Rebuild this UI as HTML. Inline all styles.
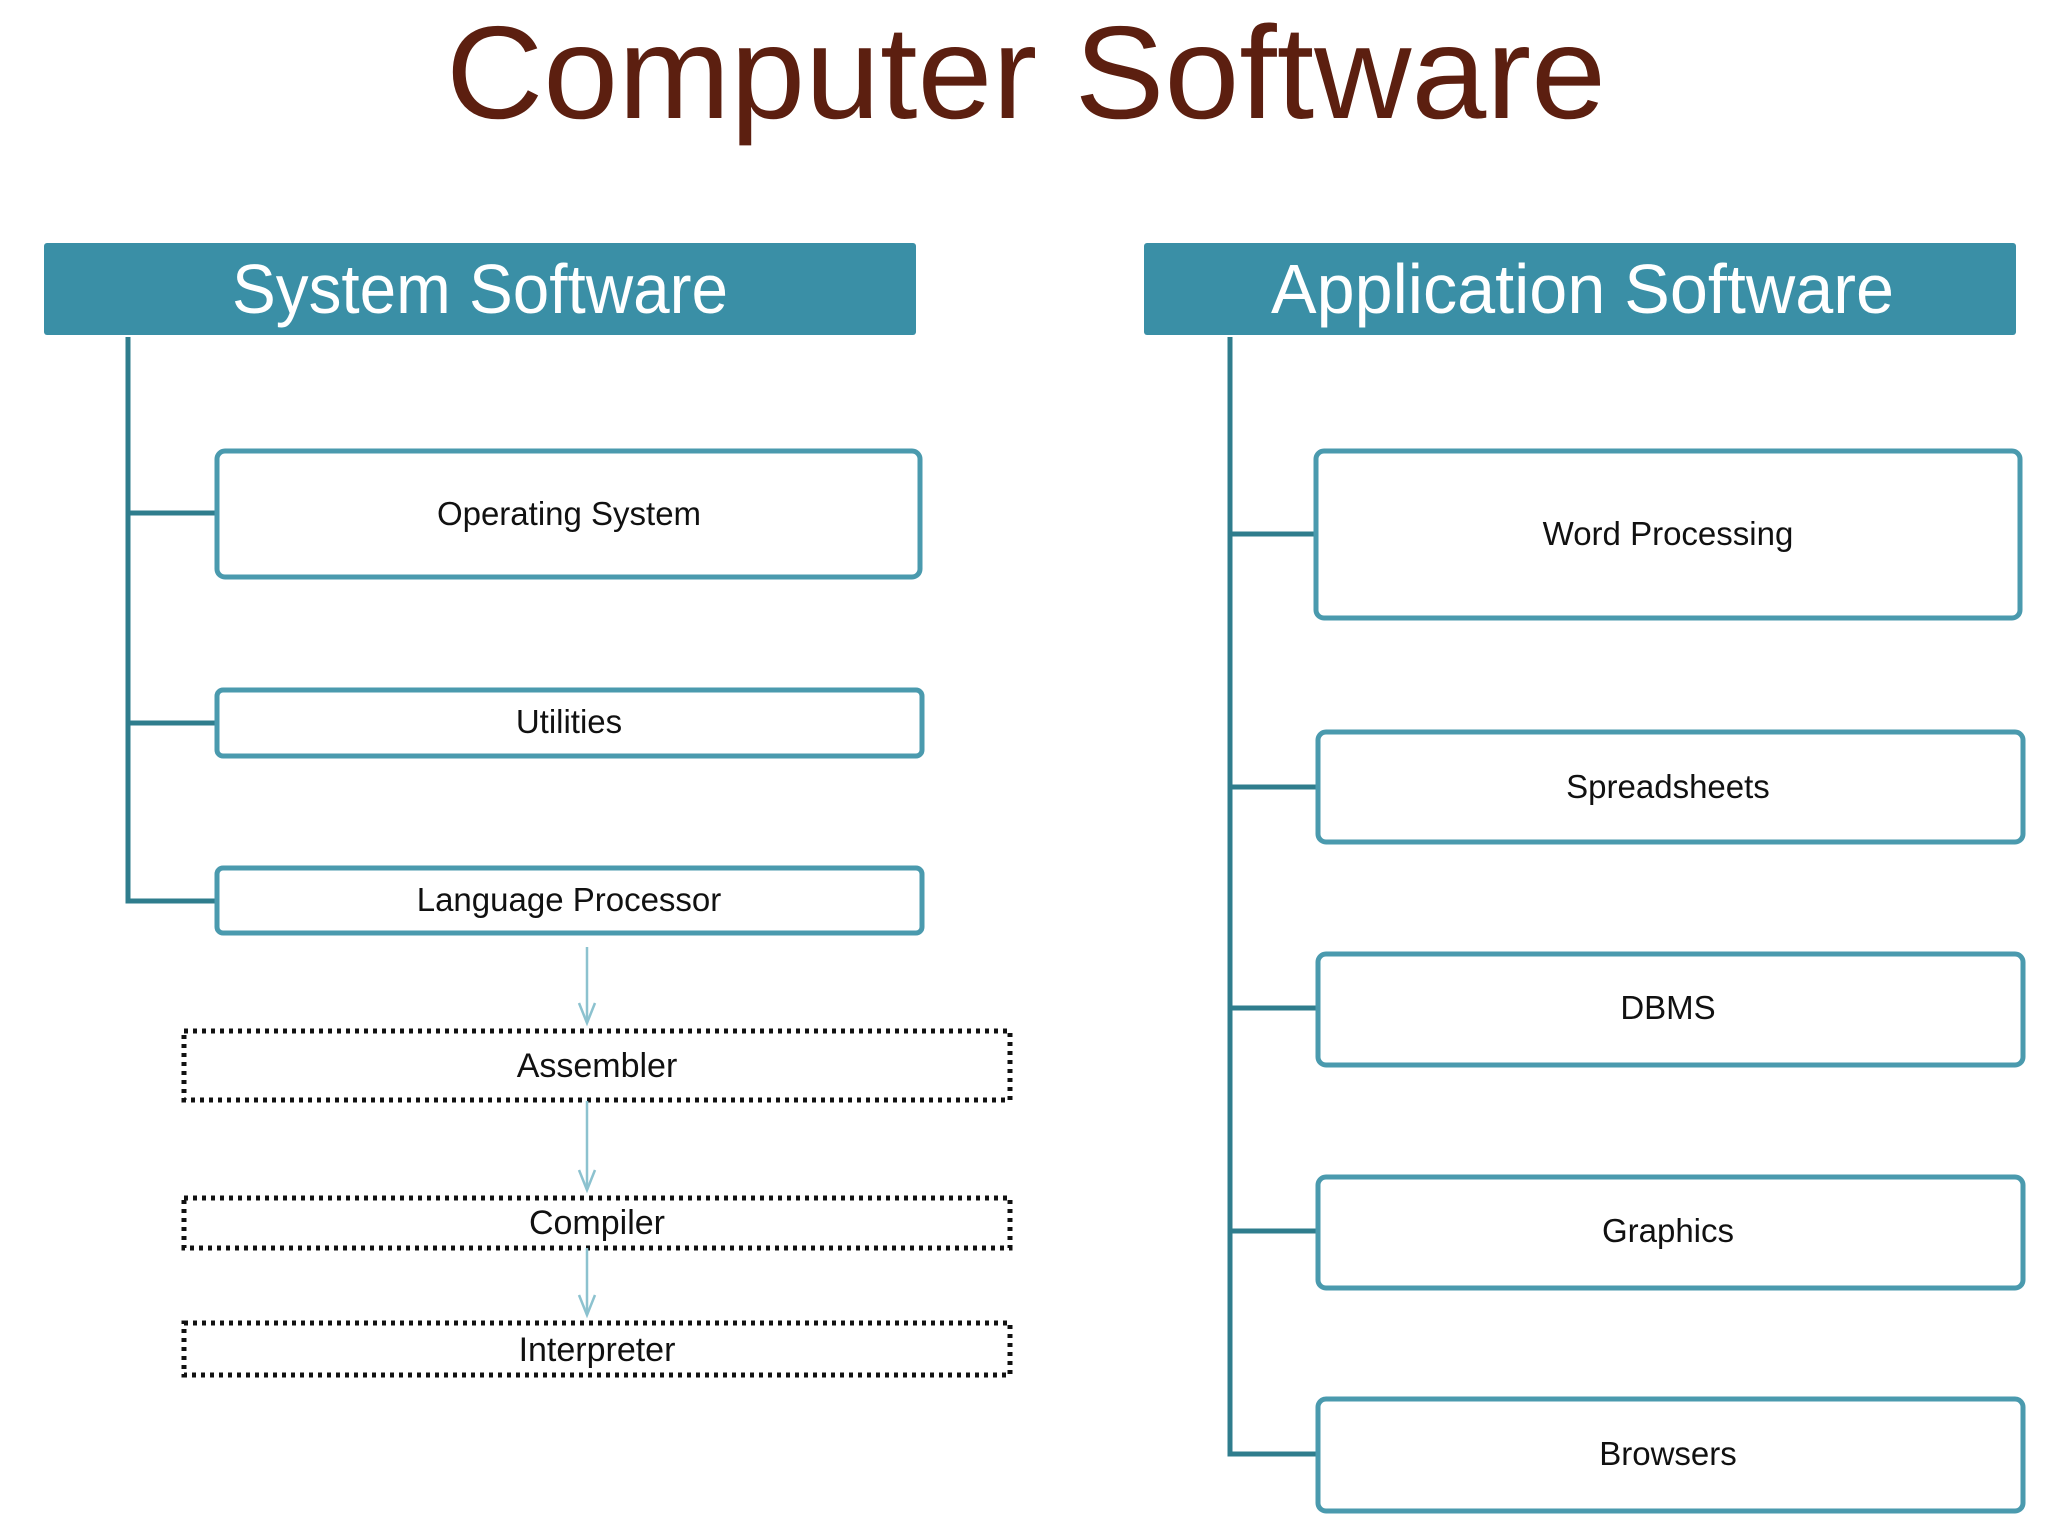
<!DOCTYPE html>
<html><head><meta charset="utf-8"><style>
html,body{margin:0;padding:0;background:#fff;}
svg{display:block;}
text{font-family:"Liberation Sans",sans-serif;}
</style></head><body>
<svg width="2048" height="1536" viewBox="0 0 2048 1536" xmlns="http://www.w3.org/2000/svg">
<text x="446" y="118" font-size="132" fill="#5c1f10" textLength="1160" lengthAdjust="spacingAndGlyphs">Computer Software</text>

<!-- headers -->
<rect x="44" y="243" width="872" height="92" rx="3" fill="#3a8fa6"/>
<text x="232" y="313" font-size="70" fill="#fff" textLength="496" lengthAdjust="spacingAndGlyphs">System Software</text>
<rect x="1144" y="243" width="872" height="92" rx="3" fill="#3a8fa6"/>
<text x="1271" y="313" font-size="70" fill="#fff" textLength="623" lengthAdjust="spacingAndGlyphs">Application Software</text>

<g stroke="#2f7d8d" stroke-width="5" fill="none">
<path d="M128,337 V901 H215"/>
<path d="M128,513 H215"/>
<path d="M128,723 H215"/>
<path d="M1230,337 V1454 H1318"/>
<path d="M1230,534 H1316"/>
<path d="M1230,787 H1318"/>
<path d="M1230,1008 H1318"/>
<path d="M1230,1231 H1318"/>
</g>
<g stroke="#4a9aae" stroke-width="5" fill="#fff">
<rect x="217" y="451" width="703" height="126" rx="8"/>
<rect x="217" y="690" width="705" height="66" rx="6"/>
<rect x="217" y="868" width="705" height="65" rx="6"/>
<rect x="1316" y="451" width="704" height="167" rx="8"/>
<rect x="1318" y="732" width="705" height="110" rx="8"/>
<rect x="1318" y="954" width="705" height="111" rx="8"/>
<rect x="1318" y="1177" width="705" height="111" rx="8"/>
<rect x="1318" y="1399" width="705" height="112" rx="8"/>
</g>
<g font-size="33" fill="#111" text-anchor="middle">
<text x="569" y="525">Operating System</text>
<text x="569" y="733">Utilities</text>
<text x="569" y="911">Language Processor</text>
<text x="1668" y="545">Word Processing</text>
<text x="1668" y="798">Spreadsheets</text>
<text x="1668" y="1019">DBMS</text>
<text x="1668" y="1242">Graphics</text>
<text x="1668" y="1465">Browsers</text>
</g>

<g stroke="#111" stroke-width="5" stroke-dasharray="4,5" fill="none">
<rect x="184" y="1031" width="826" height="69"/>
<rect x="184" y="1198" width="826" height="50"/>
<rect x="184" y="1323" width="826" height="52"/>
</g>
<g stroke="#8cc2cf" stroke-width="2.5" fill="none">
<line x1="587" y1="947" x2="587" y2="1023"/>
<path d="M579,1003 L587,1023 L595,1003"/>
<line x1="587" y1="1101" x2="587" y2="1190"/>
<path d="M579,1170 L587,1190 L595,1170"/>
<line x1="587" y1="1248" x2="587" y2="1315"/>
<path d="M579,1295 L587,1315 L595,1295"/>
</g>
<g font-size="34" fill="#111" text-anchor="middle">
<text x="597" y="1077">Assembler</text>
<text x="597" y="1234">Compiler</text>
<text x="597" y="1361">Interpreter</text>
</g>
</svg>
</body></html>
